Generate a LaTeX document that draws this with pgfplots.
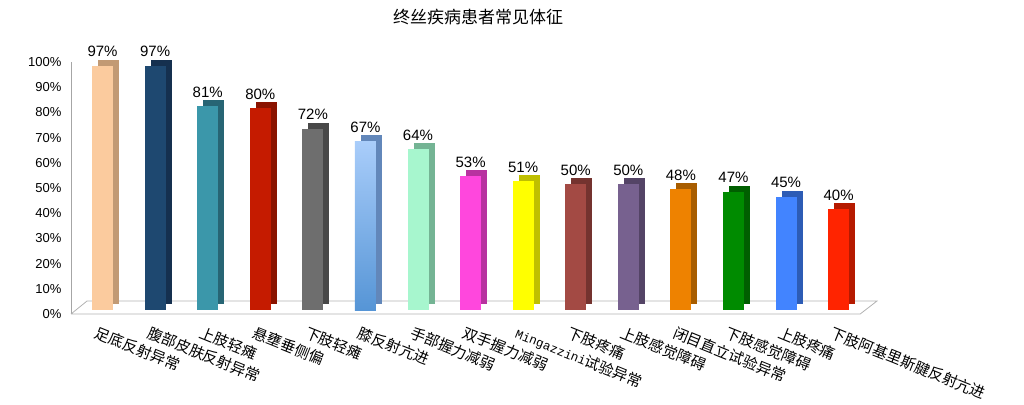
\documentclass[border=0pt]{standalone}
\usepackage{pgfplots}
\pgfplotsset{compat=1.18}
\usepackage{fontspec}
\setmainfont{Liberation Sans}
\newfontfamily\cjk{Noto Sans CJK SC}
\newfontfamily\mono{Liberation Mono}

% front / side colours
\definecolor{fa}{HTML}{FBCB9E}\definecolor{sa}{HTML}{C29A74}
\definecolor{fb}{HTML}{1E4870}\definecolor{sb}{HTML}{15304F}
\definecolor{fc}{HTML}{3B97AA}\definecolor{sc}{HTML}{276574}
\definecolor{fd}{HTML}{C51B00}\definecolor{sd}{HTML}{8A1300}
\definecolor{fe}{HTML}{6E6E6E}\definecolor{se}{HTML}{484848}
\definecolor{ff}{HTML}{A9CDFA}\definecolor{fg}{HTML}{5695D6}\definecolor{sf}{HTML}{6287BA}
\definecolor{fh}{HTML}{A7F6CE}\definecolor{sh}{HTML}{74B494}
\definecolor{fi}{HTML}{FF47DD}\definecolor{si}{HTML}{B832A0}
\definecolor{fj}{HTML}{FFFF00}\definecolor{sj}{HTML}{BFBF00}
\definecolor{fk}{HTML}{A34A44}\definecolor{sk}{HTML}{74332F}
\definecolor{fl}{HTML}{77618F}\definecolor{sl}{HTML}{544466}
\definecolor{fm}{HTML}{EE8200}\definecolor{sm}{HTML}{A85D00}
\definecolor{fn}{HTML}{008B00}\definecolor{sn}{HTML}{005F00}
\definecolor{fo}{HTML}{4284FF}\definecolor{so}{HTML}{2D5CB5}
\definecolor{fp}{HTML}{FF2400}\definecolor{sp}{HTML}{B51A00}

\pgfplotsset{
  back/.style={ybar, bar width=21pt, bar shift=6pt, draw=none, yshift=10pt},
  front/.style={ybar, bar width=21pt, bar shift=0pt, draw=none, yshift=4pt,
    nodes near coords={\pgfmathprintnumber{\pgfplotspointmeta}\%},
    nodes near coords style={font=\fontsize{15}{17}\selectfont, text=black, yshift=5pt}},
}

\begin{document}
\begin{tikzpicture}
\useasboundingbox (0,0) rectangle (1024pt,404pt);
\node[font=\cjk\fontsize{17}{19}\selectfont] at (478pt,387pt) {终丝疾病患者常见体征};
\begin{axis}[
  at={(71pt,90pt)}, anchor=south west,
  scale only axis, width=806pt, height=252pt,
  xmin=-0.6, xmax=14.73, ymin=0, ymax=100,
  clip=false,
  axis lines*=left,
  x axis line style={draw=none},
  y axis line style={draw=black!35, line width=0.8pt},
  major tick length=0pt,
  ytick={0,10,...,100},
  yticklabel={\pgfmathprintnumber{\tick}\%},
  yticklabel style={font=\fontsize{13}{15}\selectfont, xshift=-6pt},
  /pgf/number format/assume math mode=true,
  xtick={0,...,14},
  xticklabels={足底反射异常,腹部皮肤反射异常,上肢轻瘫,悬壅垂侧偏,下肢轻瘫,膝反射亢进,手部握力减弱,双手握力减弱,{{\mono\fontsize{12.5}{14}\selectfont Mingazzini}试验异常},下肢疼痛,上肢感觉障碍,闭目直立试验异常,下肢感觉障碍,上肢疼痛,下肢阿基里斯腱反射亢进},
  xticklabel style={font=\cjk\fontsize{15}{17}\selectfont, xshift=-6pt, yshift=-7pt, rotate=-22, anchor=north west},
]
% floor
\addplot[draw=black!30, line width=0.8pt] coordinates {(-0.6,0) (14.41,0) (14.73,5.16) (-0.295,5.16) (-0.6,0)};

\addplot[back, fill=sa] coordinates {(0,97)};
\addplot[front, fill=fa] coordinates {(0,97)};
\addplot[back, fill=sb] coordinates {(1,97)};
\addplot[front, fill=fb] coordinates {(1,97)};
\addplot[back, fill=sc] coordinates {(2,81)};
\addplot[front, fill=fc] coordinates {(2,81)};
\addplot[back, fill=sd] coordinates {(3,80)};
\addplot[front, fill=fd] coordinates {(3,80)};
\addplot[back, fill=se] coordinates {(4,72)};
\addplot[front, fill=fe] coordinates {(4,72)};
\addplot[back, fill=sf] coordinates {(5,67)};
\addplot[front, top color=ff, bottom color=fg] coordinates {(5,67)};
\addplot[back, fill=sh] coordinates {(6,64)};
\addplot[front, fill=fh] coordinates {(6,64)};
\addplot[back, fill=si] coordinates {(7,53)};
\addplot[front, fill=fi] coordinates {(7,53)};
\addplot[back, fill=sj] coordinates {(8,51)};
\addplot[front, fill=fj] coordinates {(8,51)};
\addplot[back, fill=sk] coordinates {(9,50)};
\addplot[front, fill=fk] coordinates {(9,50)};
\addplot[back, fill=sl] coordinates {(10,50)};
\addplot[front, fill=fl] coordinates {(10,50)};
\addplot[back, fill=sm] coordinates {(11,48)};
\addplot[front, fill=fm] coordinates {(11,48)};
\addplot[back, fill=sn] coordinates {(12,47)};
\addplot[front, fill=fn] coordinates {(12,47)};
\addplot[back, fill=so] coordinates {(13,45)};
\addplot[front, fill=fo] coordinates {(13,45)};
\addplot[back, fill=sp] coordinates {(14,40)};
\addplot[front, fill=fp] coordinates {(14,40)};
\end{axis}
\end{tikzpicture}
\end{document}
